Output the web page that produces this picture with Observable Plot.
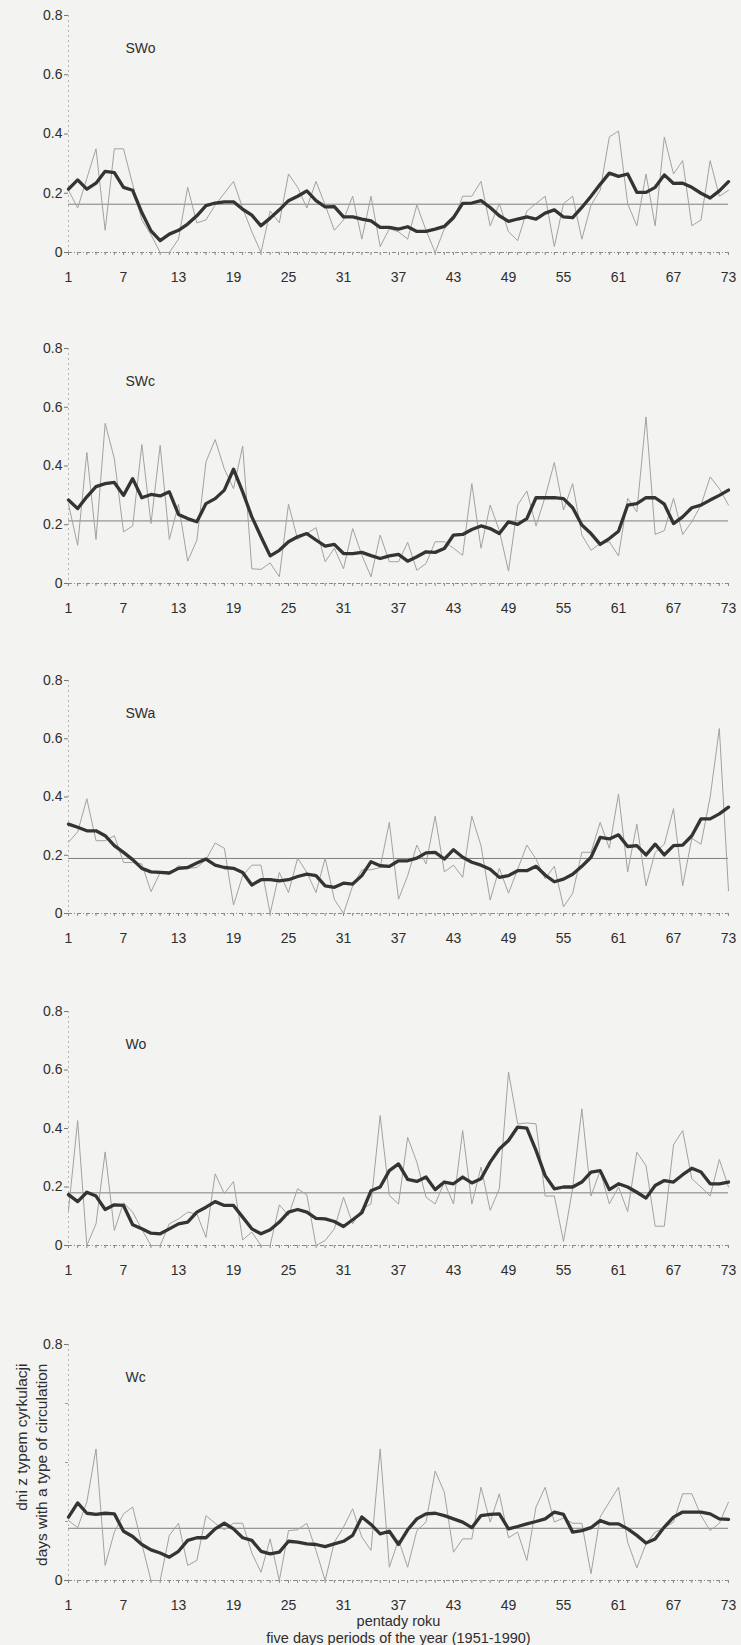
<!DOCTYPE html>
<html>
<head>
<meta charset="utf-8">
<script src="https://cdn.jsdelivr.net/npm/d3@7"></script>
<script src="https://cdn.jsdelivr.net/npm/@observablehq/plot@0.6"></script>
<style>
  html, body { margin: 0; padding: 0; background: #f3f3f1; }
  #chart svg { display: block; background: transparent; overflow: visible; }
</style>
</head>
<body>
<div id="chart"></div>
<script>
// ---------- data ----------
const pentads = d3.range(1, 74);
const xTickLabels = [1, 7, 13, 19, 25, 31, 37, 43, 49, 55, 61, 67, 73];
const yTickLabels = [0, 0.2, 0.4, 0.6, 0.8];
const yTickLabelsLast = [0, 0.8];

const typeNames = ["SWo", "SWc", "SWa", "Wo", "Wc"];
const means = [0.163, 0.213, 0.189, 0.180, 0.177];

const rawSWo = [
  0.21,0.15,0.25,0.35,0.075,0.35,0.35,0.23,0.11,0.06,
  0,0,0.045,0.22,0.10,0.11,0.16,0.20,0.24,0.15,
  0.07,0,0.14,0.10,0.265,0.22,0.15,0.24,0.16,0.075,
  0.11,0.19,0.045,0.19,0.02,0.08,0.07,0.045,0.16,0.075,
  0,0.08,0.11,0.19,0.19,0.24,0.09,0.165,0.07,0.04,
  0.14,0.165,0.19,0.02,0.165,0.19,0.045,0.16,0.21,0.39,
  0.41,0.165,0.09,0.265,0.09,0.39,0.265,0.31,0.09,0.11,
  0.31,0.19,0.21];
const smoothSWo = [
  0.214,0.245,0.214,0.234,0.274,0.27,0.22,0.21,0.135,0.073,
  0.04,0.062,0.075,0.096,0.124,0.158,0.167,0.171,0.171,0.146,
  0.126,0.09,0.116,0.144,0.175,0.19,0.208,0.175,0.154,0.155,
  0.12,0.12,0.113,0.107,0.085,0.085,0.079,0.087,0.071,0.071,
  0.079,0.088,0.118,0.166,0.167,0.175,0.152,0.124,0.105,0.113,
  0.12,0.113,0.133,0.144,0.12,0.118,0.152,0.19,0.23,0.268,
  0.257,0.265,0.203,0.203,0.22,0.262,0.233,0.234,0.22,0.2,
  0.184,0.208,0.239];

const rawSWc = [
  0.27,0.13,0.446,0.15,0.545,0.425,0.176,0.196,0.473,0.204,
  0.47,0.15,0.27,0.076,0.147,0.414,0.49,0.39,0.323,0.468,
  0.05,0.048,0.07,0.023,0.27,0.15,0.17,0.19,0.074,0.12,
  0.05,0.187,0.097,0.023,0.165,0.074,0.074,0.14,0.045,0.068,
  0.142,0.142,0.12,0.096,0.34,0.12,0.267,0.18,0.042,0.267,
  0.315,0.196,0.295,0.412,0.25,0.34,0.165,0.113,0.136,0.142,
  0.094,0.29,0.244,0.567,0.167,0.18,0.29,0.167,0.21,0.267,
  0.363,0.323,0.267];
const smoothSWc = [
  0.284,0.255,0.295,0.33,0.34,0.344,0.30,0.357,0.292,0.303,
  0.298,0.312,0.235,0.221,0.21,0.272,0.289,0.318,0.389,0.312,
  0.227,0.159,0.094,0.113,0.142,0.159,0.17,0.148,0.127,0.133,
  0.102,0.102,0.106,0.095,0.085,0.094,0.099,0.076,0.091,0.108,
  0.106,0.119,0.165,0.167,0.184,0.196,0.187,0.17,0.21,0.201,
  0.221,0.292,0.292,0.292,0.289,0.258,0.199,0.17,0.133,0.153,
  0.178,0.267,0.272,0.292,0.292,0.27,0.204,0.227,0.258,0.267,
  0.284,0.30,0.318];

const rawSWa = [
  0.245,0.28,0.394,0.25,0.25,0.267,0.175,0.175,0.17,0.075,
  0.141,0.135,0.164,0.155,0.158,0.185,0.242,0.224,0.029,0.13,
  0.166,0.166,0,0.141,0.072,0.19,0.141,0.072,0.19,0.049,
  0,0.095,0.15,0.15,0.158,0.313,0.049,0.13,0.235,0.17,
  0.334,0.143,0.166,0.124,0.334,0.233,0.046,0.155,0.07,0.152,
  0.235,0.187,0.12,0.162,0.023,0.069,0.21,0.21,0.313,0.224,
  0.41,0.143,0.307,0.095,0.21,0.238,0.36,0.095,0.258,0.238,
  0.40,0.635,0.078];
const smoothSWa = [
  0.307,0.296,0.284,0.284,0.267,0.233,0.21,0.185,0.155,0.143,
  0.141,0.139,0.155,0.158,0.173,0.187,0.166,0.158,0.155,0.141,
  0.098,0.116,0.116,0.112,0.116,0.127,0.135,0.13,0.095,0.09,
  0.104,0.101,0.13,0.178,0.164,0.162,0.181,0.181,0.19,0.208,
  0.21,0.187,0.219,0.193,0.176,0.166,0.152,0.124,0.13,0.147,
  0.147,0.162,0.132,0.109,0.118,0.135,0.162,0.193,0.261,0.256,
  0.27,0.23,0.233,0.201,0.238,0.201,0.233,0.235,0.267,0.325,
  0.325,0.342,0.365];

const rawWo = [
  0.12,0.427,0,0.074,0.32,0.051,0.146,0.114,0.055,0,
  0,0.074,0.091,0.114,0.108,0.028,0.245,0.177,0.219,0.019,
  0.046,0,0,0.139,0.103,0.194,0.173,0,0.017,0.057,
  0.165,0.074,0.125,0.142,0.444,0.171,0.142,0.37,0.285,0.165,
  0.142,0.217,0.142,0.393,0.142,0.268,0.12,0.194,0.593,0.416,
  0.419,0.416,0.169,0.169,0.014,0.196,0.467,0.169,0.256,0.142,
  0.2,0.116,0.319,0.273,0.066,0.066,0.344,0.393,0.228,0.2,
  0.169,0.294,0.2];
const smoothWo = [
  0.174,0.15,0.182,0.169,0.123,0.139,0.137,0.071,0.057,0.042,
  0.04,0.057,0.074,0.08,0.114,0.131,0.15,0.137,0.137,0.097,
  0.057,0.04,0.054,0.08,0.114,0.123,0.114,0.093,0.091,0.082,
  0.065,0.088,0.112,0.187,0.2,0.256,0.279,0.226,0.219,0.234,
  0.191,0.217,0.211,0.234,0.214,0.228,0.285,0.33,0.359,0.405,
  0.401,0.325,0.239,0.194,0.2,0.2,0.217,0.251,0.256,0.191,
  0.211,0.2,0.182,0.162,0.205,0.222,0.217,0.242,0.264,0.251,
  0.211,0.211,0.217];

const rawWc = [
  0.203,0.179,0.266,0.446,0.051,0.164,0.226,0.249,0.124,0,
  0,0.153,0.194,0.051,0.068,0.22,0.194,0.172,0.194,0.194,
  0.093,0.028,0.141,0,0.169,0.172,0.194,0.102,0,0.13,
  0.181,0.243,0.147,0.102,0.446,0.045,0.138,0.045,0.169,0.198,
  0.371,0.299,0.096,0.141,0.141,0.316,0.198,0.294,0.145,0.164,
  0.068,0.249,0.316,0.198,0.212,0.194,0.194,0.023,0.215,0.266,
  0.316,0.13,0.043,0.124,0.164,0.179,0.198,0.294,0.294,0.22,
  0.169,0.194,0.266];
const smoothWc = [
  0.215,0.263,0.228,0.224,0.228,0.226,0.167,0.149,0.122,0.104,
  0.093,0.079,0.099,0.136,0.145,0.145,0.175,0.194,0.175,0.145,
  0.136,0.099,0.09,0.096,0.133,0.13,0.124,0.122,0.115,0.124,
  0.133,0.153,0.215,0.19,0.158,0.167,0.122,0.172,0.209,0.226,
  0.228,0.22,0.209,0.198,0.179,0.22,0.224,0.226,0.175,0.183,
  0.192,0.2,0.209,0.232,0.224,0.164,0.169,0.179,0.203,0.192,
  0.192,0.175,0.153,0.127,0.141,0.181,0.215,0.232,0.232,0.232,
  0.226,0.209,0.207];

const rawSeries = [rawSWo, rawSWc, rawSWa, rawWo, rawWc];
const smoothSeries = [smoothSWo, smoothSWc, smoothSWa, smoothWo, smoothWc];

const yTitleLines = ["dni z typem cyrkulacji", "days with a type of circulation"];
const xTitleLines = ["pentady roku", "five days periods of the year (1951-1990)"];

// ---------- layout / style ----------
const FONT = "'Liberation Sans', Arial, sans-serif";
const layout = [
  {height: 332, marginTop: 15, marginBottom: 80},
  {height: 332, marginTop: 16, marginBottom: 81},
  {height: 332, marginTop: 16, marginBottom: 83},
  {height: 332, marginTop: 15, marginBottom: 83},
  {height: 317, marginTop: 16, marginBottom: 65}
];

const container = document.getElementById("chart");
const fmt = d => d === 0 ? "0" : d.toFixed(1);

typeNames.forEach((name, k) => {
  const raw = rawSeries[k];
  const smooth = smoothSeries[k];
  const last = k === typeNames.length - 1;
  const marks = [
    // left axis line (faint, dotted)
    Plot.ruleX([pentads[0]], {stroke: "#b5b5b5", strokeDasharray: "2,3"}),
    // bottom axis line (dotted)
    Plot.ruleY([0], {stroke: "#8a8a8a", strokeDasharray: "4,2,1,2"}),
    // minor ticks every pentad
    Plot.axisX(pentads, {tickSize: 3, fill: "none", stroke: "#8a8a8a", label: null}),
    // x tick labels
    Plot.axisX(xTickLabels, {tickSize: 0, tickPadding: 20, fontSize: 14, fill: "#2e2e2e", label: null}),
    // y ticks + labels
    Plot.axisY(last ? yTickLabelsLast : yTickLabels, {tickSize: 4, tickPadding: 2, tickFormat: fmt, fontSize: 14, fill: "#2e2e2e", stroke: "#777", label: null}),
    // mean line
    Plot.ruleY([means[k]], {stroke: "#7d7d7d", strokeWidth: 1}),
    // raw values
    Plot.line(pentads, {x: d => d, y: (d, i) => raw[i], stroke: "#a2a2a2", strokeWidth: 1}),
    // smoothed values
    Plot.line(pentads, {x: d => d, y: (d, i) => smooth[i], stroke: "#343434", strokeWidth: 3.3, strokeLinejoin: "round"}),
    // panel label
    Plot.text([name], {text: d => d, frameAnchor: "top-left", dx: 57, dy: 28, lineAnchor: "top", textAnchor: "start", fontSize: 14, fill: "#2e2e2e"})
  ];
  if (last) {
    marks.push(
      Plot.axisY([0.2, 0.4, 0.6], {tickSize: 3, fill: "none", stroke: "#999", label: null}),
      Plot.text([yTitleLines[0]], {text: d => d, frameAnchor: "top-left", dx: -53, dy: 19, rotate: -90, textAnchor: "end", fontSize: 15.5, fill: "#2e2e2e"}),
      Plot.text([yTitleLines[1]], {text: d => d, frameAnchor: "top-left", dx: -33, dy: 19, rotate: -90, textAnchor: "end", fontSize: 15.5, fill: "#2e2e2e"}),
      Plot.text([xTitleLines[0]], {text: d => d, frameAnchor: "bottom", dy: 35, lineAnchor: "top", fontSize: 14.5, fill: "#2e2e2e"}),
      Plot.text([xTitleLines[1]], {text: d => d, frameAnchor: "bottom", dy: 52, lineAnchor: "top", fontSize: 14.5, fill: "#2e2e2e"})
    );
  }
  const svg = Plot.plot({
    width: 741,
    height: layout[k].height,
    marginLeft: 68,
    marginRight: 13,
    marginTop: layout[k].marginTop,
    marginBottom: layout[k].marginBottom,
    style: {fontFamily: FONT, background: "transparent", color: "#2e2e2e", overflow: "visible"},
    x: {domain: [1, 73], axis: null},
    y: {domain: [0, 0.8], axis: null},
    marks
  });
  container.appendChild(svg);
});
</script>
</body>
</html>
